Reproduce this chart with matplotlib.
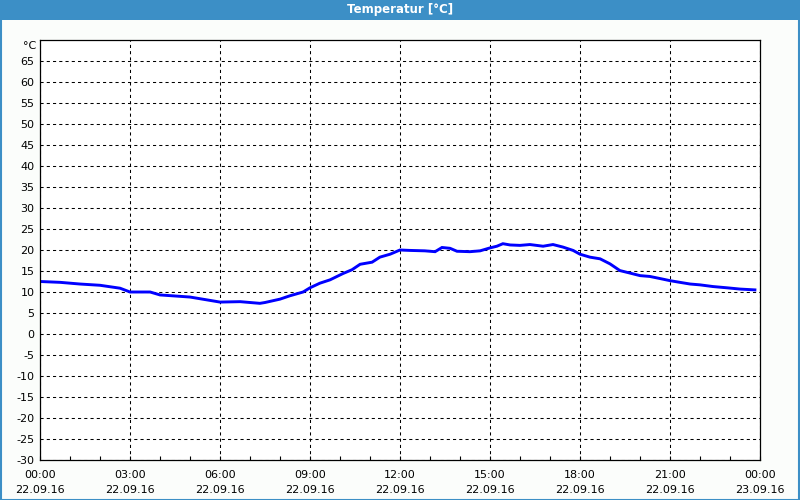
import matplotlib
matplotlib.use("Agg")
import matplotlib.pyplot as plt
from matplotlib.patches import Rectangle
from matplotlib.ticker import MultipleLocator, FixedLocator

# Data: hours since 22.09.16 00:00, temperature in °C
hours = [0.0, 0.67, 1.33, 2.0, 2.67, 3.0, 3.67, 4.0, 5.0, 6.0, 6.67, 7.33, 7.5,
         8.0, 8.33, 8.77, 9.0, 9.33, 9.67, 10.1, 10.4, 10.67, 11.07, 11.33, 11.67,
         12.0, 12.33, 12.83, 13.17, 13.4, 13.67, 13.9, 14.33, 14.67, 15.0, 15.23,
         15.43, 15.67, 16.0, 16.33, 16.77, 17.1, 17.43, 17.77, 18.0, 18.33, 18.67,
         19.0, 19.33, 19.67, 20.0, 20.33, 20.67, 21.0, 21.33, 21.67, 22.0, 22.43,
         22.9, 23.33, 23.83]
temps = [12.5, 12.3, 11.9, 11.6, 10.9, 10.0, 10.0, 9.3, 8.8, 7.6, 7.7, 7.3, 7.5,
         8.3, 9.1, 10.0, 11.0, 12.1, 12.9, 14.4, 15.3, 16.6, 17.1, 18.3, 19.0,
         20.0, 19.9, 19.8, 19.6, 20.6, 20.4, 19.7, 19.6, 19.8, 20.5, 20.9,
         21.5, 21.2, 21.1, 21.3, 20.9, 21.3, 20.7, 19.9, 19.0, 18.3, 17.9,
         16.7, 15.1, 14.5, 13.9, 13.7, 13.2, 12.7, 12.3, 11.9, 11.7, 11.3,
         11.0, 10.7, 10.5]

tick_hours = [0, 3, 6, 9, 12, 15, 18, 21, 24]
tick_labels = ["00:00\n22.09.16", "03:00\n22.09.16", "06:00\n22.09.16",
               "09:00\n22.09.16", "12:00\n22.09.16", "15:00\n22.09.16",
               "18:00\n22.09.16", "21:00\n22.09.16", "00:00\n23.09.16"]
y_ticks = list(range(-30, 70, 5))
title = "Temperatur [°C]"

bar_blue = "#3c8fc6"

fig = plt.figure(figsize=(8, 5), dpi=100, facecolor="#fbfdfb")

# Title bar and border
fig.patches.append(Rectangle((0, 1 - 20 / 500), 1, 20 / 500, transform=fig.transFigure,
                             facecolor=bar_blue, edgecolor="none", zorder=0))
fig.patches.append(Rectangle((0.5 / 800, 0.5 / 500), 1 - 1.5 / 800, 1 - 1 / 500,
                             transform=fig.transFigure, facecolor="none",
                             edgecolor=bar_blue, linewidth=1.5, zorder=0))
fig.text(0.5, 1 - 10 / 500, title, color="white", fontsize=8.5, fontweight="bold",
         ha="center", va="center", family="DejaVu Sans")

ax = fig.add_axes([40 / 800, 40 / 500, 720 / 800, 420 / 500])
ax.set_facecolor("white")
ax.plot(hours, temps, color="#0000ff", linewidth=2.1, solid_joinstyle="miter")

ax.set_xlim(0, 24)
ax.set_ylim(-30, 70)
ax.xaxis.set_major_locator(FixedLocator(tick_hours))
ax.set_xticklabels(tick_labels)
ax.xaxis.set_minor_locator(MultipleLocator(1))
ax.set_yticks(y_ticks)
ax.set_yticklabels([str(v) for v in y_ticks])

ax.tick_params(axis="x", which="both", direction="in", length=3, width=0.8,
               labelsize=8, pad=7, colors="black")
ax.tick_params(axis="y", which="both", length=0, labelsize=8, pad=4)
for lbl in ax.get_xticklabels():
    lbl.set_linespacing(1.6)

ax.grid(True, which="major", color="black", linestyle=(0, (3, 3)), linewidth=0.75)
ax.set_axisbelow(True)
for s in ax.spines.values():
    s.set_color("black")
    s.set_linewidth(0.9)

ax.text(-0.005, 1 - 6 / 420, "°C", transform=ax.transAxes, ha="right", va="center",
        fontsize=8)

fig.savefig("out.png", dpi=100, facecolor=fig.get_facecolor())
